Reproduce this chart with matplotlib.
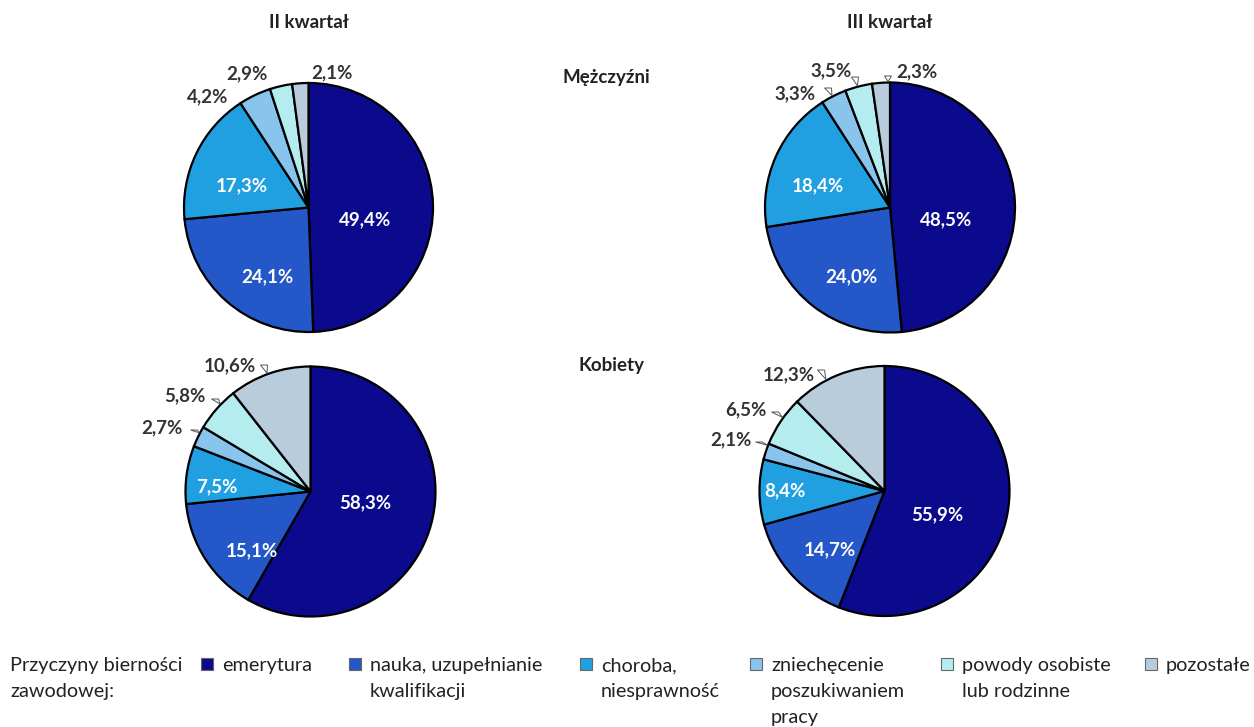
import numpy as np
import matplotlib.pyplot as plt
from matplotlib.patches import Polygon, Rectangle

plt.rcParams['font.family'] = ['Lato', 'DejaVu Sans']

W, H = 1254, 727

categories = ["emerytura", "nauka, uzupełnianie\nkwalifikacji", "choroba,\nniesprawność",
              "zniechęcenie\nposzukiwaniem\npracy", "powody osobiste\nlub rodzinne", "pozostałe"]
colors = ["#0c0a8c", "#2458c8", "#20a0e0", "#88c4ec", "#b4ecf0", "#b8ccdc"]

q2_men = [49.4, 24.1, 17.3, 4.2, 2.9, 2.1]
q3_men = [48.5, 24.0, 18.4, 3.3, 3.5, 2.3]
q2_women = [58.3, 15.1, 7.5, 2.7, 5.8, 10.6]
q3_women = [55.9, 14.7, 8.4, 2.1, 6.5, 12.3]

# pie layout in pixels: center x, center y, radius
pies = [
    (q2_men, 308.5, 207.5, 124.5),
    (q3_men, 890, 207.5, 125),
    (q2_women, 310.5, 491.5, 125),
    (q3_women, 884.5, 491, 125),
]
# label centres (px) and callout base points (px, None = no callout)
label_pos = [
    [(365, 220), (267, 277), (242, 186), (208, 97), (247, 74), (332, 73)],
    [(946, 220), (851, 277), (818, 186), (795, 94), (831, 71), (917, 72)],
    [(365, 503), (252, 551), (217, 487), (162, 428), (185, 396), (230, 366)],
    [(937, 515), (830, 550), (785, 491), (731, 440), (746, 410), (789, 375)],
]
callouts = [
    [None] * 6,
    [None, None, None, (828, 88), (855, 77), (888, 76)],
    [None, None, None, (194, 430), (215, 399), (264, 365)],
    [None, None, None, (759, 442), (775, 412), (821, 370)],
]
white_labels = 3

fig = plt.figure(figsize=(W / 100, H / 100), dpi=100)


def fx(x):
    return x / W


def fy(y):
    return 1 - y / H


for (vals, cx, cy, r), lpos, calls in zip(pies, label_pos, callouts):
    pad = 4
    ax = fig.add_axes([fx(cx - r - pad), fy(cy + r + pad), (2 * (r + pad)) / W, (2 * (r + pad)) / H])
    ax.pie(vals, colors=colors, startangle=90, counterclock=False, radius=1,
           wedgeprops=dict(edgecolor="black", linewidth=1.6))
    lim = (r + pad) / r
    ax.set_xlim(-lim, lim)
    ax.set_ylim(-lim, lim)
    ax.set_aspect('equal')
    ax.axis('off')

    for i, v in enumerate(vals):
        txt = f"{v:.1f}".replace('.', ',') + '%'
        col = "white" if i < white_labels else "#333333"
        lx, ly = lpos[i]
        fig.text(fx(lx), fy(ly), txt, ha='center', va='center', fontsize=13.5,
                 fontweight='bold', color=col)
        if calls[i] is not None:
            bx, by = calls[i]
            # callout points at the nearest spot on the pie edge
            ang = np.arctan2(cy - by, bx - cx)
            tx, ty = cx + (r + 1) * np.cos(ang), cy - (r + 1) * np.sin(ang)
            tri = Polygon([(fx(bx - 3.5), fy(by)), (fx(bx + 3.5), fy(by)), (fx(tx), fy(ty))],
                          closed=True, facecolor="white", edgecolor="#555555", linewidth=0.7,
                          transform=fig.transFigure)
            fig.patches.append(tri)

# titles
title_kw = dict(ha='center', va='center', fontsize=13.5, fontweight='bold', color="#222222")
fig.text(fx(309), fy(22), "II kwartał", **title_kw)
fig.text(fx(890), fy(22), "III kwartał", **title_kw)
fig.text(fx(606), fy(78), "Mężczyźni", **title_kw)
fig.text(fx(612), fy(365), "Kobiety", **title_kw)

# legend
line_y = [664, 690, 716]
leg_fs = 14.3
fig.text(fx(10), fy(line_y[0]), "Przyczyny bierności", ha='left', va='center_baseline', fontsize=leg_fs, color="#222222")
fig.text(fx(10), fy(line_y[1]), "zawodowej:", ha='left', va='center_baseline', fontsize=leg_fs, color="#222222")
marker_x = [201, 349, 580, 750, 941, 1145]
for mx, cat, c in zip(marker_x, categories, colors):
    fig.patches.append(Rectangle((fx(mx), fy(line_y[0] + 6)), 12 / W, 12 / H, facecolor=c,
                                 edgecolor="#666666", linewidth=0.8, transform=fig.transFigure))
    for k, line in enumerate(cat.split("\n")):
        fig.text(fx(mx + 21), fy(line_y[k]), line, ha='left', va='center_baseline',
                 fontsize=leg_fs, color="#222222")

fig.savefig("out.png", dpi=100)
